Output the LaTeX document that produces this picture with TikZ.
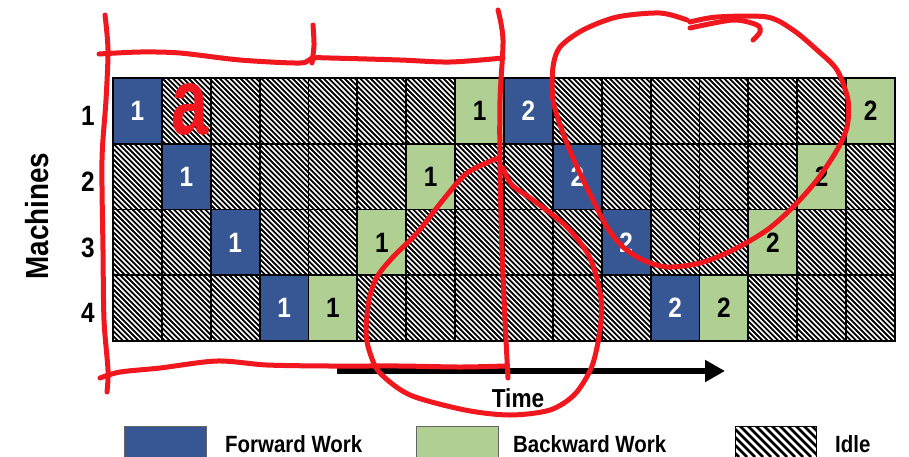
\documentclass[tikz,border=0pt]{standalone}
\usepackage{fontspec}
\newfontfamily\cf{Liberation Sans}[FakeStretch=0.87]
\usetikzlibrary{arrows.meta}
\definecolor{fwd}{RGB}{55,86,148}
\definecolor{bwd}{RGB}{176,208,147}
\definecolor{ink}{RGB}{240,24,30}
\begin{document}
\begin{tikzpicture}[x=1pt,y=-1pt,
  gridline/.style={line width=1.8pt,black},
  hatch/.style={line width=1.8pt,black},
  cellbox/.style={minimum width=48.875pt,minimum height=65.75pt,inner sep=0pt,
     font=\cf\bfseries\fontsize{28}{28}\selectfont},
  fwdcell/.style={cellbox,fill=fwd,text=white},
  bwdcell/.style={cellbox,fill=bwd,text=black},
  rowlab/.style={font=\cf\bfseries\fontsize{28}{28}\selectfont},
  legtext/.style={anchor=base west,inner sep=0pt,font=\cf\bfseries\fontsize{23.5}{24}\selectfont},
  legbox/.style={draw=black!60,line width=1pt},
  scribble/.style={ink,line width=5pt,line cap=round,line join=round}]
\useasboundingbox (0,0) rectangle (909,456);
\fill[white] (0,0) rectangle (909,456);
% hatched background of grid
\begin{scope}
  \clip (113,78) rectangle (895,341);
  \foreach \k in {0,...,200} \draw[hatch] ({-150+5.2*\k},78) -- ({113+5.2*\k},341);
\end{scope}
% forward cells
\foreach \r/\c/\t in {1/1/1,2/2/1,3/3/1,4/4/1,1/9/2,2/10/2,3/11/2,4/12/2}
  \node[fwdcell] (f\r-\c) at ({113+48.875*(\c-0.5)},{78+65.75*(\r-0.5)}) {\t};
% backward cells
\foreach \r/\c/\t in {1/8/1,2/7/1,3/6/1,4/5/1,1/16/2,2/15/2,3/14/2,4/13/2}
  \node[bwdcell] (b\r-\c) at ({113+48.875*(\c-0.5)},{78+65.75*(\r-0.5)}) {\t};
% grid lines
\draw[gridline] (113,78) rectangle (895,341);
\foreach \c in {1,...,15} \draw[gridline] ({113+48.875*\c},78) -- ({113+48.875*\c},341);
\foreach \r in {1,2,3} \draw[gridline] (113,{78+65.75*\r}) -- (895,{78+65.75*\r});
% row labels
\foreach \r in {1,...,4}
  \node[rowlab] (r\r) at (88,{78+65.75*(\r-0.5)+5}) {\r};
\node[rotate=90,font=\cf\bfseries\fontsize{32}{32}\selectfont] (mach) at (37,216) {Machines};
% time arrow
\coordinate (tstart) at (337,371);
\coordinate (tend) at (725,371);
\draw[line width=5.5pt,-{Triangle[length=20pt,width=21pt]}] (tstart) -- (tend);
\node[font=\cf\bfseries\fontsize{26}{26}\selectfont,anchor=base,inner sep=0pt] (time) at (518,407) {Time};
% legend
\filldraw[legbox,fill=fwd] (124,426) rectangle (206,457);
\node[legtext] (lf) at (225,452) {Forward Work};
\filldraw[legbox,fill=bwd] (416,426) rectangle (498,457);
\node[legtext] (lb) at (513,452) {Backward Work};
\begin{scope}
  \clip (735,426) rectangle (816,457);
  \foreach \k in {0,...,16} \draw[line width=2.8pt] ({700+8*\k},426) -- ({731+8*\k},457);
\end{scope}
\draw[black,line width=1pt] (735,426) rectangle (816,457);
\node[legtext] (li) at (835,452) {Idle};
% red annotations
\draw[scribble] plot[smooth] coordinates {(105,15) (108,50) (106,100) (102,160) (103,250) (104,320) (108,370) (107,392)};
\draw[scribble] plot[smooth] coordinates {(99,54) (140,52) (180,53) (240,60) (300,63) (312,58) (330,58) (400,60) (450,62) (503,58)};
\draw[scribble] plot[smooth] coordinates {(313,25) (314,45) (312,63)};
\draw[scribble] plot[smooth] coordinates {(498,10) (503,40) (500,100) (500,170) (502,250) (505,320) (508,378)};
\draw[scribble] plot[smooth] coordinates {(100,378) (120,372) (160,368) (217,361) (267,365) (330,366) (400,366) (460,367) (505,366)};
\draw[scribble] plot[smooth] coordinates {(498,158) (467,173) (443,200) (417,233) (393,257) (377,277) (369,300) (366,333) (370,353) (380,373) (410,395) (465,410) (510,415) (550,410) (575,394) (592,366) (600,330) (601,298) (590,258) (567,227) (533,200) (512,185) (503,168)};
\draw[scribble] plot[smooth] coordinates {(687,20) (660,13) (617,17) (583,30) (560,47) (553,67) (553,100) (563,133) (577,167) (593,200) (607,227) (623,247) (643,260) (667,267) (700,263) (733,250) (767,230) (793,207) (817,180) (837,150) (847,127) (848,100) (837,70) (817,50) (793,30) (767,17) (717,17) (690,22)};
\draw[scribble] plot[smooth] coordinates {(690,28) (733,20) (757,25) (760,32) (753,40)};
\node[ink,inner sep=0pt] (ann) at (190,110) {\scalebox{0.85}[1.05]{\cf\bfseries\fontsize{90}{90}\selectfont a}};
\end{tikzpicture}
\end{document}
